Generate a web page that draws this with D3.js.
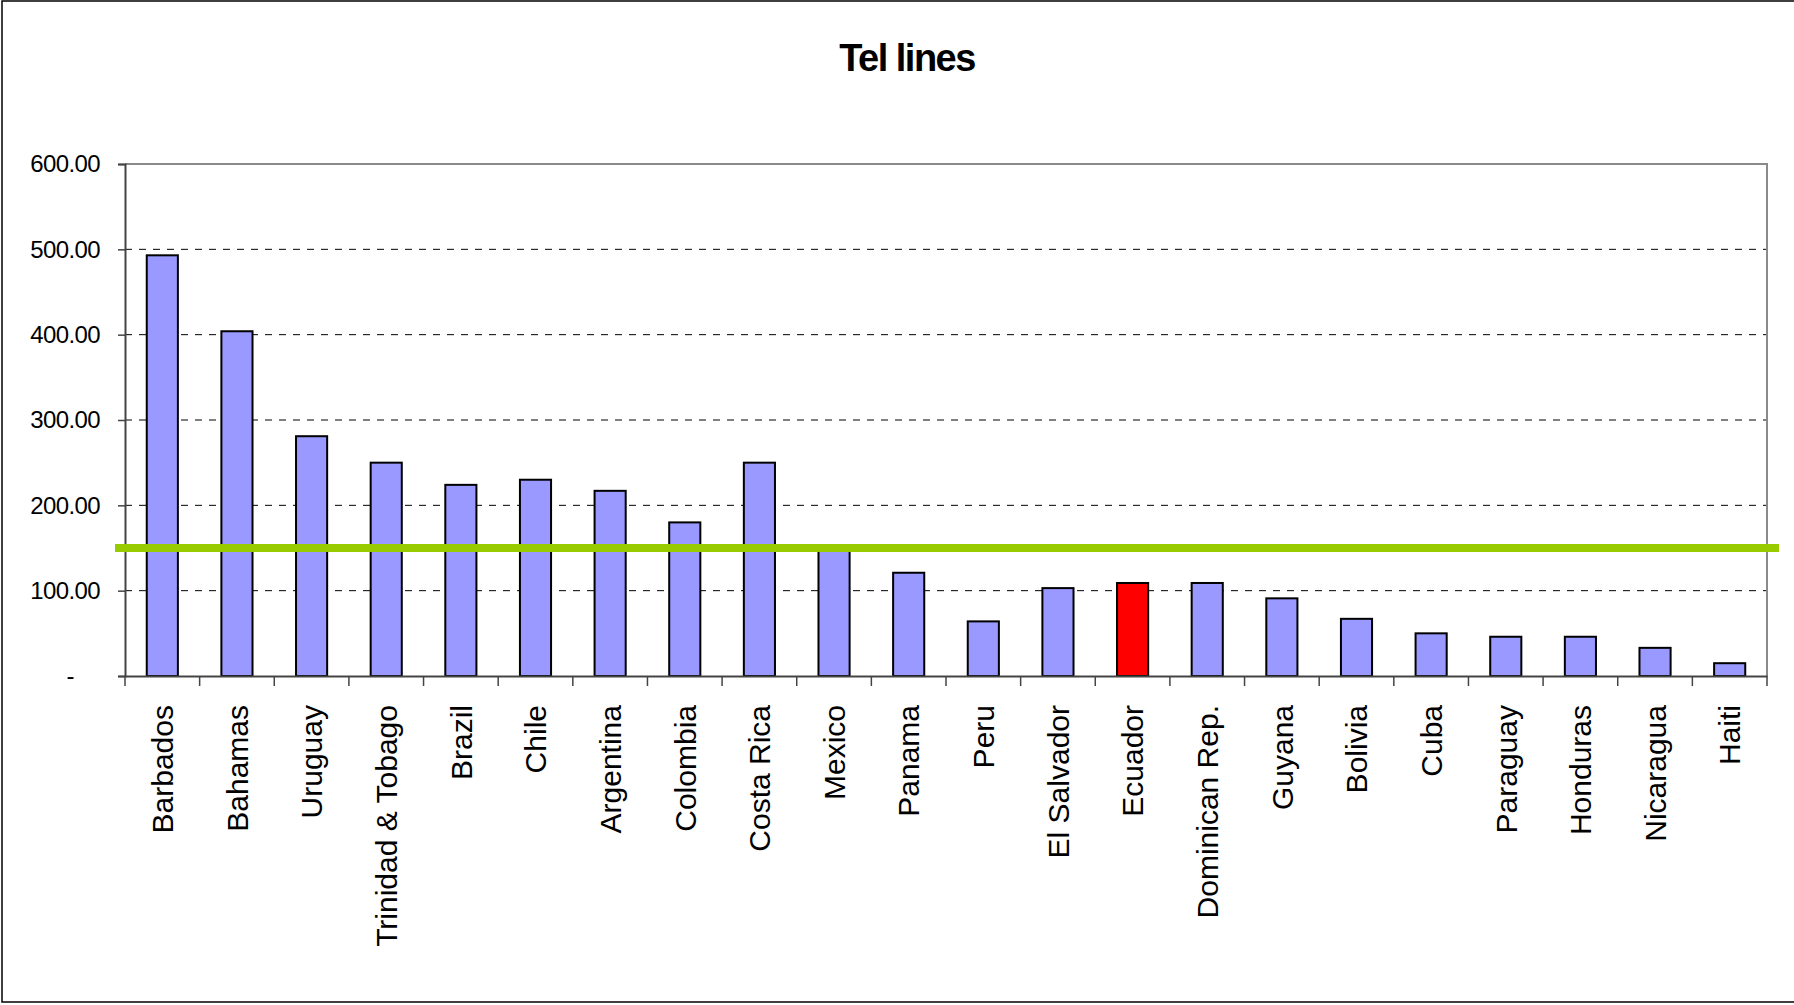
<!DOCTYPE html>
<html>
<head>
<meta charset="utf-8">
<script src="https://cdn.jsdelivr.net/npm/d3@7"></script>
<style>
  body { margin: 0; background: #fff; }
  svg { display: block; font-family: "Liberation Sans", Arial, sans-serif; }
</style>
</head>
<body>
<svg id="chart"></svg>
<script>
// data
const countries = ["Barbados", "Bahamas", "Uruguay", "Trinidad & Tobago", "Brazil", "Chile",
  "Argentina", "Colombia", "Costa Rica", "Mexico", "Panama", "Peru", "El Salvador", "Ecuador",
  "Dominican Rep.", "Guyana", "Bolivia", "Cuba", "Paraguay", "Honduras", "Nicaragua", "Haiti"];
const telLines = [493, 404, 281, 250, 224, 230, 217, 180, 250, 148, 121, 64, 103, 109,
  109, 91, 67, 50, 46, 46, 33, 15];
const highlight = ["Ecuador"];
const threshold = 150;
const yTicks = [0, 100, 200, 300, 400, 500, 600];

const W = 1794, H = 1005;
const margin = { top: 164, right: 27, bottom: 329, left: 125 };
const width = W - margin.left - margin.right,
  height = H - margin.top - margin.bottom;

const svg = d3.select("#chart").attr("width", W).attr("height", H);

// outer chart border
svg.append("rect")
  .attr("x", 2).attr("y", 1)
  .attr("width", W + 10).attr("height", 1001)
  .attr("fill", "none").attr("stroke", "#000").attr("stroke-width", 1.5);

// title
svg.append("text")
  .attr("x", 907).attr("y", 71)
  .attr("text-anchor", "middle")
  .style("font-size", "38px").style("font-weight", "bold")
  .style("letter-spacing", "-1.5px")
  .text("Tel lines");

const g = svg.append("g").attr("transform", `translate(${margin.left},${margin.top})`);

const x = d3.scaleBand().domain(countries).range([0, width]).paddingInner(0.583).paddingOuter(0.2915);
const y = d3.scaleLinear().domain([0, 600]).range([height, 0]);

// dashed gridlines
g.append("g")
  .selectAll("line")
  .data(yTicks.filter(d => d > 0 && d < 600))
  .join("line")
  .attr("x1", 0).attr("x2", width)
  .attr("y1", d => y(d)).attr("y2", d => y(d))
  .attr("stroke", "#000").attr("stroke-width", 1)
  .attr("stroke-dasharray", "7,7");

// plot border top and right
g.append("path")
  .attr("d", `M0,${y(600)}H${width}V${height}`)
  .attr("fill", "none").attr("stroke", "#8a8a8a").attr("stroke-width", 2);

// bars
g.append("g")
  .selectAll("rect")
  .data(countries)
  .join("rect")
  .attr("x", d => x(d))
  .attr("y", (d, i) => y(telLines[i]))
  .attr("width", x.bandwidth())
  .attr("height", (d, i) => height - y(telLines[i]))
  .attr("fill", d => highlight.includes(d) ? "#ff0000" : "#9999ff")
  .attr("stroke", "#000").attr("stroke-width", 2);

// y axis
const yAxis = g.append("g")
  .call(d3.axisLeft(y).tickValues(yTicks).tickSize(7).tickPadding(18)
    .tickFormat(d => d === 0 ? "-" : d3.format(".2f")(d)));
yAxis.select(".domain").attr("stroke", "#444").attr("stroke-width", 2);
yAxis.selectAll(".tick line").attr("stroke", "#444").attr("stroke-width", 1.5);
yAxis.selectAll("text")
  .style("font-size", "24px").style("letter-spacing", "-0.6px").attr("fill", "#000")
  .filter(d => d === 0).attr("x", -51);

// x axis
const step = x.step();
const xAxis = g.append("g")
  .attr("transform", `translate(0,${height})`)
  .call(d3.axisBottom(x).tickSize(0));
xAxis.select(".domain").attr("stroke", "#444").attr("stroke-width", 2);
xAxis.selectAll("text")
  .attr("transform", "rotate(-90)")
  .attr("x", -29).attr("y", 0).attr("dy", "0.36em")
  .attr("text-anchor", "end")
  .style("font-size", "30px").attr("fill", "#000");

// category separators below the axis
xAxis.append("g")
  .selectAll("line")
  .data(d3.range(countries.length + 1))
  .join("line")
  .attr("x1", i => i * step).attr("x2", i => i * step)
  .attr("y1", 0).attr("y2", 10)
  .attr("stroke", "#444").attr("stroke-width", 1.5);

// reference line
g.append("line")
  .attr("x1", -10).attr("x2", width + 12)
  .attr("y1", y(threshold)).attr("y2", y(threshold))
  .attr("stroke", "#99cc00").attr("stroke-width", 8);
</script>
</body>
</html>
